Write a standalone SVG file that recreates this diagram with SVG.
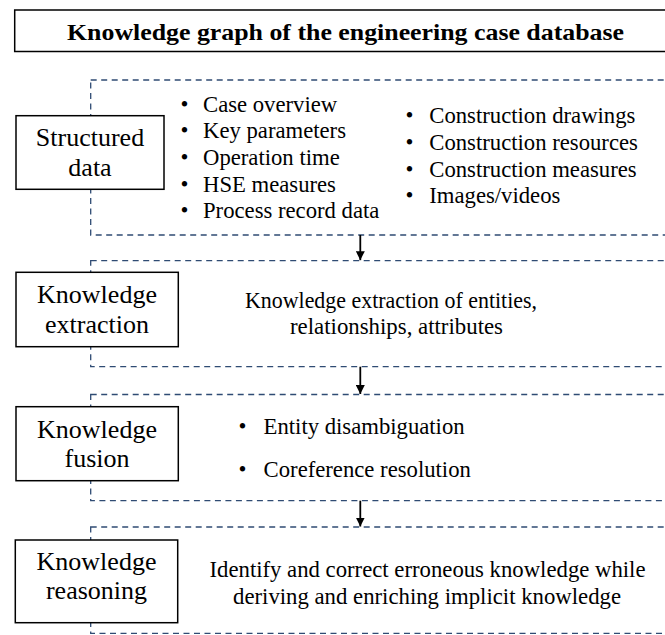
<svg xmlns="http://www.w3.org/2000/svg" width="665" height="635" viewBox="0 0 665 635">
  <style>
    .node { fill: #fff; stroke: #000; stroke-width: 1.5; }
    .stage { fill: none; stroke: #2F4B73; stroke-width: 1.3; stroke-dasharray: 6 4.5; }
    .flow { stroke: #000; stroke-width: 1.8; fill: none; }
  </style>
  <defs>
    <marker id="arrowhead" viewBox="0 0 10 10" refX="10" refY="5" markerWidth="5" markerHeight="5" orient="auto" markerUnits="strokeWidth">
      <path d="M0,0 L10,5 L0,10 z" fill="#000"/>
    </marker>
  </defs>

  <rect width="665" height="635" fill="#fff"/>

  <!-- Title banner -->
  <g id="title">
    <rect x="14.7" y="10" width="670" height="41.5" fill="#fff" stroke="#000" stroke-width="1.5"/>
    <text font-family="Liberation Serif" font-weight="bold" font-size="24" x="67" y="40" textLength="557" lengthAdjust="spacingAndGlyphs">Knowledge graph of the engineering case database</text>
  </g>

  <!-- Stage frames (dashed) -->
  <g id="stage-frames">
    <rect class="stage" x="90.7" y="80" width="600" height="155"/>
    <rect class="stage" x="90.7" y="260.7" width="600" height="106"/>
    <rect class="stage" x="90.7" y="394.5" width="600" height="106.2"/>
    <rect class="stage" x="90.7" y="527" width="600" height="106.3"/>
  </g>

  <!-- Connectors between stages -->
  <g id="connectors">
    <line class="flow" x1="360.3" y1="235" x2="360.3" y2="260.2" marker-end="url(#arrowhead)"/>
    <line class="flow" x1="360.3" y1="366.7" x2="360.3" y2="394" marker-end="url(#arrowhead)"/>
    <line class="flow" x1="360.3" y1="500.7" x2="360.3" y2="526.5" marker-end="url(#arrowhead)"/>
  </g>

  <!-- Stage 1: structured data -->
  <g id="structured-data">
    <rect class="node" x="16" y="115.7" width="148" height="73.6"/>
    <text font-family="Liberation Serif" font-size="26" text-anchor="middle" x="90" y="145.7">Structured</text>
    <text font-family="Liberation Serif" font-size="26" text-anchor="middle" x="90" y="175.7">data</text>
    <text font-family="Liberation Serif" font-size="22.7" text-anchor="middle" x="184.5" y="111.7">•</text>
    <text font-family="Liberation Serif" font-size="22.7" x="203" y="111.7">Case overview</text>
    <text font-family="Liberation Serif" font-size="22.7" text-anchor="middle" x="184.5" y="138.3">•</text>
    <text font-family="Liberation Serif" font-size="22.7" x="203" y="138.3">Key parameters</text>
    <text font-family="Liberation Serif" font-size="22.7" text-anchor="middle" x="184.5" y="165">•</text>
    <text font-family="Liberation Serif" font-size="22.7" x="203" y="165">Operation time</text>
    <text font-family="Liberation Serif" font-size="22.7" text-anchor="middle" x="184.5" y="191.7">•</text>
    <text font-family="Liberation Serif" font-size="22.7" x="203" y="191.7">HSE measures</text>
    <text font-family="Liberation Serif" font-size="22.7" text-anchor="middle" x="184.5" y="218.3">•</text>
    <text font-family="Liberation Serif" font-size="22.7" x="203" y="218.3">Process record data</text>
    <text font-family="Liberation Serif" font-size="22.7" text-anchor="middle" x="409.5" y="123.3">•</text>
    <text font-family="Liberation Serif" font-size="22.7" x="429.3" y="123.3">Construction drawings</text>
    <text font-family="Liberation Serif" font-size="22.7" text-anchor="middle" x="409.5" y="150">•</text>
    <text font-family="Liberation Serif" font-size="22.7" x="429.3" y="150">Construction resources</text>
    <text font-family="Liberation Serif" font-size="22.7" text-anchor="middle" x="409.5" y="176.7">•</text>
    <text font-family="Liberation Serif" font-size="22.7" x="429.3" y="176.7">Construction measures</text>
    <text font-family="Liberation Serif" font-size="22.7" text-anchor="middle" x="409.5" y="202.7">•</text>
    <text font-family="Liberation Serif" font-size="22.7" x="429.3" y="202.7">Images/videos</text>
  </g>

  <!-- Stage 2: knowledge extraction -->
  <g id="knowledge-extraction">
    <rect class="node" x="16" y="272.3" width="162.3" height="74.4"/>
    <text font-family="Liberation Serif" font-size="26" text-anchor="middle" x="97" y="303">Knowledge</text>
    <text font-family="Liberation Serif" font-size="26" text-anchor="middle" x="97" y="333.3">extraction</text>
    <text font-family="Liberation Serif" font-size="22.7" x="245" y="308.3" textLength="292" lengthAdjust="spacingAndGlyphs">Knowledge extraction of entities,</text>
    <text font-family="Liberation Serif" font-size="22.7" x="290" y="333.5" textLength="213" lengthAdjust="spacingAndGlyphs">relationships, attributes</text>
  </g>

  <!-- Stage 3: knowledge fusion -->
  <g id="knowledge-fusion">
    <rect class="node" x="16" y="406.7" width="162.3" height="74"/>
    <text font-family="Liberation Serif" font-size="26" text-anchor="middle" x="97" y="438.3">Knowledge</text>
    <text font-family="Liberation Serif" font-size="26" text-anchor="middle" x="97" y="467.3">fusion</text>
    <text font-family="Liberation Serif" font-size="22.7" text-anchor="middle" x="242.4" y="433.5">•</text>
    <text font-family="Liberation Serif" font-size="22.7" x="263.6" y="433.5">Entity disambiguation</text>
    <text font-family="Liberation Serif" font-size="22.7" text-anchor="middle" x="242.4" y="476.7">•</text>
    <text font-family="Liberation Serif" font-size="22.7" x="263.6" y="476.7">Coreference resolution</text>
  </g>

  <!-- Stage 4: knowledge reasoning -->
  <g id="knowledge-reasoning">
    <rect class="node" x="15.3" y="540" width="162.4" height="82.7"/>
    <text font-family="Liberation Serif" font-size="26" text-anchor="middle" x="96.5" y="570">Knowledge</text>
    <text font-family="Liberation Serif" font-size="26" text-anchor="middle" x="96.5" y="599">reasoning</text>
    <text font-family="Liberation Serif" font-size="22.7" x="209.5" y="576.7" textLength="436" lengthAdjust="spacingAndGlyphs">Identify and correct erroneous knowledge while</text>
    <text font-family="Liberation Serif" font-size="22.7" x="233" y="604.3" textLength="388" lengthAdjust="spacingAndGlyphs">deriving and enriching implicit knowledge</text>
  </g>
</svg>
